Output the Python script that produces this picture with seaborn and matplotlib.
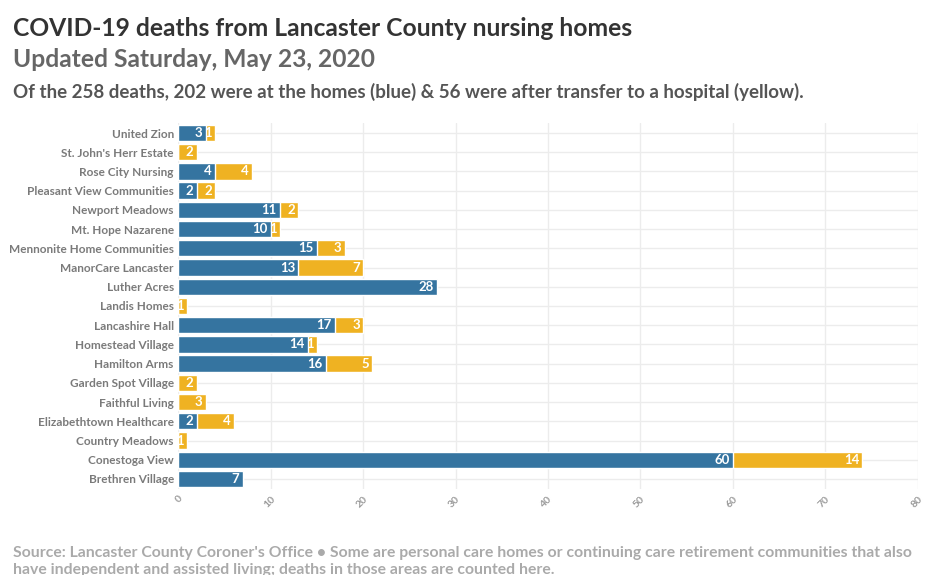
import matplotlib
matplotlib.use("Agg")
import matplotlib.pyplot as plt
import seaborn as sns
import pandas as pd

homes = ["United Zion", "St. John's Herr Estate", "Rose City Nursing", "Pleasant View Communities",
         "Newport Meadows", "Mt. Hope Nazarene", "Mennonite Home Communities", "ManorCare Lancaster",
         "Luther Acres", "Landis Homes", "Lancashire Hall", "Homestead Village", "Hamilton Arms",
         "Garden Spot Village", "Faithful Living", "Elizabethtown Healthcare", "Country Meadows",
         "Conestoga View", "Brethren Village"]
at_home = [3, 0, 4, 2, 11, 10, 15, 13, 28, 0, 17, 14, 16, 0, 0, 2, 0, 60, 7]
hospital = [1, 2, 4, 2, 2, 1, 3, 7, 0, 1, 3, 1, 5, 2, 3, 4, 1, 14, 0]
x_ticks = [0, 10, 20, 30, 40, 50, 60, 70, 80]

title = "COVID-19 deaths from Lancaster County nursing homes"
subtitle1 = "Updated Saturday, May 23, 2020"
subtitle2 = "Of the 258 deaths, 202 were at the homes (blue) & 56 were after transfer to a hospital (yellow)."
footer = ("Source: Lancaster County Coroner's Office \u2022 Some are personal care homes or continuing care retirement communities that also\n"
          "have independent and assisted living; deaths in those areas are counted here.")

BLUE = "#3574a0"
YELLOW = "#efb222"

sns.set_theme(style="whitegrid")
plt.rcParams['font.family'] = ['Lato', 'DejaVu Sans']
plt.rcParams['font.weight'] = 'bold'

df = pd.DataFrame({"home": homes, "blue": at_home, "yellow": hospital})
df["total"] = df["blue"] + df["yellow"]

fig = plt.figure(figsize=(9.39, 5.75), dpi=100)
ax = fig.add_axes([0.1896, 0.1503, 0.788, 0.6351])

sns.barplot(data=df, y="home", x="total", color=YELLOW, orient="h", width=0.85,
            saturation=1, ax=ax, zorder=2)
sns.barplot(data=df, y="home", x="blue", color=BLUE, orient="h", width=0.85,
            saturation=1, ax=ax, zorder=3)

for i, (b, y) in enumerate(zip(at_home, hospital)):
    if b > 0:
        ax.text(b - 0.35, i, str(b), ha="right", va="center", color="white",
                fontsize=9.5, fontweight="bold", zorder=5)
    if y > 0:
        ax.text(b + y - 0.35, i, str(y), ha="right", va="center", color="white",
                fontsize=9.5, fontweight="bold", zorder=5)

ax.set_xlim(0, 80)
ax.set_ylim(len(homes) - 0.5, -0.5)
ax.set_xticks(x_ticks)
ax.set_xticklabels([str(t) for t in x_ticks], rotation=45, ha="right",
                   rotation_mode="anchor", color="#999999", fontsize=7.5)
ax.tick_params(axis="x", pad=4, length=0)
ax.tick_params(axis="y", pad=3, length=0, labelsize=8.5, labelcolor="#7a7a7a")
ax.set_xlabel("")
ax.set_ylabel("")
for s in ax.spines.values():
    s.set_visible(False)
ax.grid(True, color="#ececec", linewidth=1)
ax.set_axisbelow(True)
ax.set_facecolor("white")

fig.text(0.0138, 0.951, title, fontsize=17.7, fontweight="bold", color="#333333", va="center")
fig.text(0.0138, 0.897, subtitle1, fontsize=17.7, fontweight="bold", color="#666666", va="center")
fig.text(0.0138, 0.84, subtitle2, fontsize=13.5, fontweight="bold", color="#555555", va="center")
fig.text(0.0138, 0.024, footer, fontsize=11.3, fontweight="bold", color="#aaaaaa",
         va="center", linespacing=1.3)

fig.savefig("out.png", dpi=100, facecolor="white")
